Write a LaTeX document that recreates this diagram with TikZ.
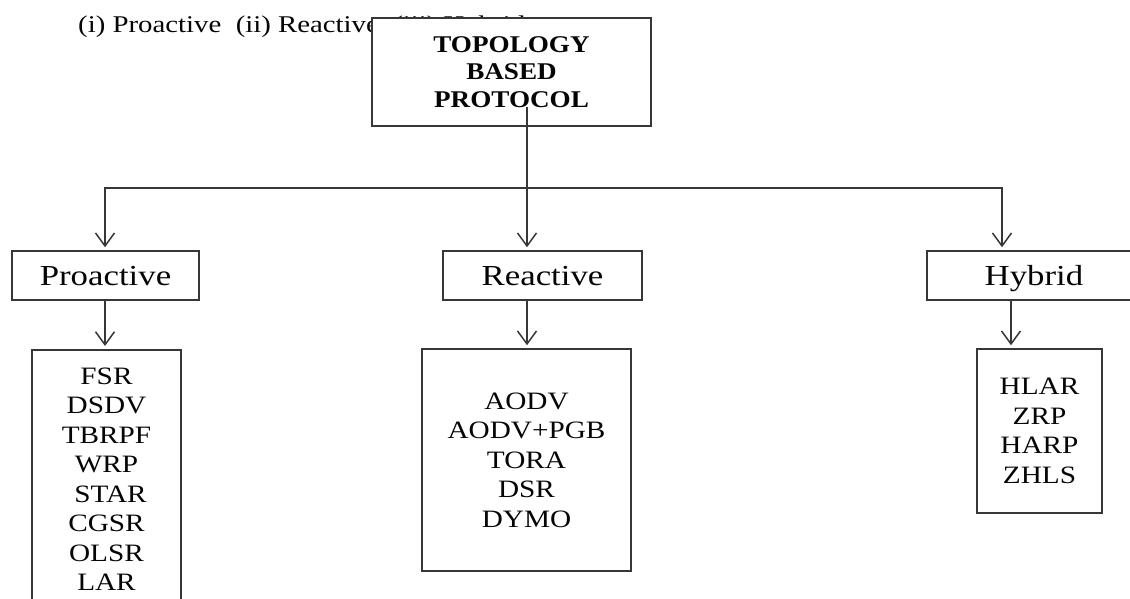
\documentclass[tikz,border=0pt]{standalone}
\usepackage{fontspec}
\setmainfont{Liberation Serif}
\usepackage{graphicx}
\usetikzlibrary{arrows.meta}
\definecolor{ln}{RGB}{55,55,55}
\definecolor{tx}{RGB}{5,5,5}
\newcommand{\hx}[1]{\scalebox{1.17}[1]{#1}}
\newcommand{\hy}[1]{\scalebox{1.2}[1]{#1}}
\newcommand{\hz}[1]{\scalebox{1.13}[1]{#1}}
\begin{document}
\begin{tikzpicture}[x=1pt,y=-1pt,
 box/.style={draw=ln, line width=1.5pt, fill=white, inner sep=0pt, text=tx},
 headbox/.style={box, minimum height=49pt, font=\fontsize{29}{34}\selectfont, text height=19.2pt, text depth=0pt},
 listbox/.style={box, align=center, font=\fontsize{25}{29.5}\selectfont},
 conn/.style={draw=ln, line width=1.5pt},
 arr/.style={conn, -{Straight Barb[length=13pt,width=19pt]}, shorten >=3pt}]

\useasboundingbox (0,0) rectangle (1130,599);
\fill[white] (0,0) rectangle (1130,599);

\node[anchor=base west, text=tx, font=\fontsize{24}{28}\selectfont, inner sep=0pt] (intro) at (78,33) {\hy{(i) Proactive\ \ (ii) Reactive\ \ (iii) Hybrid}};

\node[box, minimum width=279pt, minimum height=108pt, align=center, font=\bfseries\fontsize{24}{27.5}\selectfont] (top) at (511.5,72) {\hz{TOPOLOGY}\\\hz{BASED}\\\hz{PROTOCOL}};

\node[headbox, minimum width=187pt] (phead) at (105.5,275.5) {\hy{Proactive}};
\node[headbox, minimum width=199pt] (rhead) at (542.5,275.5) {\hy{Reactive}};
\node[headbox, minimum width=214pt] (hhead) at (1034,275.5) {\hy{Hybrid}};

\node[listbox, anchor=north, minimum width=149pt, inner ysep=18pt] (plist) at (106.5,349) {\hx{FSR}\\\hx{DSDV}\\\hx{TBRPF}\\\hx{WRP}\\\hspace{8pt}\hx{STAR}\\\hx{CGSR}\\\hx{OLSR}\\\hx{LAR}};
\node[listbox, minimum width=209pt, minimum height=222pt] (rlist) at (526.5,460) {\hx{AODV}\\\hx{AODV+PGB}\\\hx{TORA}\\\hx{DSR}\\\hx{DYMO}};
\node[listbox, minimum width=125pt, minimum height=164pt] (hlist) at (1039.5,431) {\hx{HLAR}\\\hx{ZRP}\\\hx{HARP}\\\hx{ZHLS}};

\coordinate (tstem) at (527,107);
\coordinate (jl) at (105,188);
\coordinate (jm) at (527,188);
\coordinate (jr) at (1002,188);
\coordinate (hb) at (1011,300);
\draw[conn] (tstem) -- (jm);
\draw[conn, line cap=rect] (jl) -- (jr);
\draw[arr] (jl) -- (jl |- phead.north);
\draw[arr] (jm) -- (jm |- rhead.north);
\draw[arr] (jr) -- (jr |- hhead.north);
\draw[arr] (jl |- phead.south) -- (jl |- plist.north);
\draw[arr] (jm |- rhead.south) -- (jm |- rlist.north);
\draw[arr] (hb |- hhead.south) -- (hb |- hlist.north);
\end{tikzpicture}
\end{document}
